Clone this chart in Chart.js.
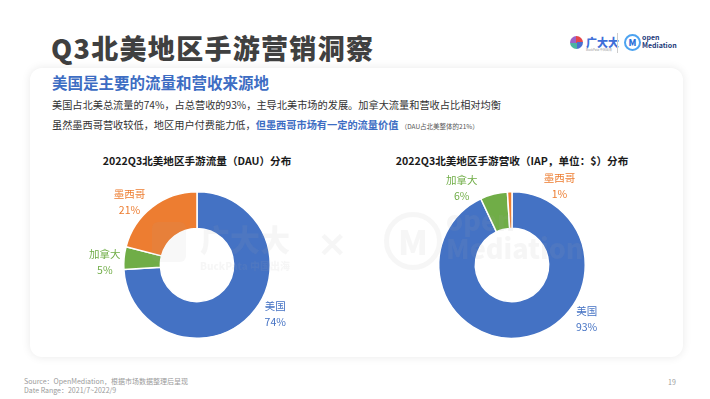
<!DOCTYPE html>
<html lang="zh">
<head>
<meta charset="UTF-8">
<title>Q3北美地区手游营销洞察</title>
<script src="https://cdn.jsdelivr.net/npm/chart.js"></script>
<style>
  body { margin: 0; width: 710px; height: 399px; background: #fff; font-family: 'Noto Sans CJK SC', 'Noto Sans', sans-serif; position: relative; overflow: hidden; }
  .abs { position: absolute; white-space: nowrap; }
  .title { left: 51px; top: 28px; font-size: 27px; font-weight: 900; color: #404040; letter-spacing: 1.3px; }
  .card { left: 30px; top: 68px; width: 653px; height: 289px; border-radius: 12px; background: #fff; box-shadow: 0 0 10px rgba(0,0,0,0.09); }
  .sub { left: 52px; top: 71px; font-size: 15.5px; font-weight: 700; color: #3d6dc3; }
  .para { left: 52px; font-size: 10.2px; color: #333; }
  .hl { color: #3d6dc3; font-weight: 700; }
  .tiny { font-size: 6.5px; color: #555; }
  .ctitle { font-size: 10.6px; font-weight: 700; color: #1a1a1a; transform: translateX(-50%); }
  .wm { color: rgba(170,170,170,0.10); font-weight: 900; }
  .foot { left: 24px; font-size: 7px; color: #9a9a9a; line-height: 9px; }
  canvas { position: absolute; }
</style>
</head>
<body>
<div class="abs title">Q3北美地区手游营销洞察</div>

<!-- logos top right -->
<div class="abs" style="left:570px;top:36px;width:13px;height:13px;border-radius:50%;background:conic-gradient(#e5474b 0 25%, #4a6fd0 25% 50%, #4bb5a0 50% 75%, #9a62c9 75% 100%);"></div>
<div class="abs" style="left:586px;top:34px;font-size:11px;font-weight:900;color:#3f6fd8;">广大大</div>
<div class="abs" style="left:586px;top:48px;font-size:3px;color:#999;">BuckPata 中国出海</div>
<div class="abs" style="left:617px;top:33px;width:1px;height:20px;background:#ccc;"></div>
<div class="abs" style="left:624px;top:34px;width:13px;height:13px;border:2px solid #4da3f0;border-radius:50%;font-size:9px;font-weight:900;color:#2a6fd8;text-align:center;line-height:13px;">M</div>
<div class="abs" style="left:642px;top:33px;font-size:7px;font-weight:700;color:#1d3a7a;line-height:8px;">open<br>Mediation</div>

<div class="abs card"></div>
<div class="abs sub">美国是主要的流量和营收来源地</div>
<div class="abs para" style="top:97px;">美国占北美总流量的74%，占总营收的93%，主导北美市场的发展。加拿大流量和营收占比相对均衡</div>
<div class="abs para" style="top:117px;">虽然墨西哥营收较低，地区用户付费能力低，<span class="hl">但墨西哥市场有一定的流量价值</span> <span class="tiny">（DAU占北美整体的21%）</span></div>

<div class="abs ctitle" style="left:197px;top:153px;">2022Q3北美地区手游流量（DAU）分布</div>
<div class="abs ctitle" style="left:512px;top:153px;">2022Q3北美地区手游营收（IAP，单位：$）分布</div>

<canvas id="dauChart" width="280" height="200" style="left:57px;top:165px;"></canvas>
<canvas id="iapChart" width="280" height="200" style="left:372px;top:165px;"></canvas>

<!-- watermarks -->
<div class="abs wm" style="left:152px;top:222px;width:34px;height:40px;border-radius:6px;background:rgba(170,170,170,0.08);"></div>
<div class="abs wm" style="left:200px;top:216px;font-size:30px;">广大大</div>
<div class="abs wm" style="left:200px;top:258px;font-size:10px;">BuckPata 中国出海</div>
<div class="abs wm" style="left:318px;top:218px;font-size:34px;">✕</div>
<div class="abs wm" style="left:384px;top:212px;width:48px;height:48px;border:5px solid rgba(170,170,170,0.10);border-radius:50%;font-size:34px;text-align:center;line-height:48px;">M</div>
<div class="abs wm" style="left:446px;top:206px;font-size:27px;line-height:28px;">open<br>Mediation</div>

<div class="abs foot" style="top:377px;">Source：OpenMediation，根据市场数据整理后呈现<br>Date Range：2021/7~2022/9</div>
<div class="abs" style="left:668px;top:377px;font-size:7px;color:#9a9a9a;">19</div>

<script>
const regions = ['美国', '加拿大', '墨西哥'];
const dauShare = [74, 5, 21];
const iapShare = [93, 6, 1];
const sliceColors = ['#4472c4', '#70ad47', '#ed7d31'];

// label placement, degrees clockwise from 12 o'clock
const dauLabelAngles = [122, 272, 313];
const iapLabelAngles = [126, 327, 31];

const outsideLabels = {
  id: 'outsideLabels',
  afterDatasetsDraw(chart, args, opts) {
    const ctx = chart.ctx;
    const meta = chart.getDatasetMeta(0);
    ctx.save();
    ctx.font = '10.5px "Noto Sans CJK SC", sans-serif';
    ctx.textAlign = 'center';
    ctx.textBaseline = 'middle';
    meta.data.forEach((arc, i) => {
      const a = opts.angles[i] * Math.PI / 180;
      const r = arc.outerRadius + opts.gap;
      const x = arc.x + Math.sin(a) * r;
      const y = arc.y - Math.cos(a) * r;
      ctx.fillStyle = sliceColors[i];
      ctx.fillText(chart.data.labels[i], x, y - 8);
      ctx.fillText(chart.data.datasets[0].data[i] + '%', x, y + 8);
    });
    ctx.restore();
  }
};

function makeDonut(id, values, angles) {
  return new Chart(document.getElementById(id), {
    type: 'doughnut',
    data: { labels: regions, datasets: [{ data: values, backgroundColor: sliceColors, borderColor: '#fff', borderWidth: 1.5 }] },
    options: {
      responsive: false,
      animation: false,
      cutout: '50%',
      layout: { padding: { top: 26, bottom: 26 } },
      plugins: { legend: { display: false }, tooltip: { enabled: false }, outsideLabels: { angles: angles, gap: 19 } }
    },
    plugins: [outsideLabels]
  });
}

makeDonut('dauChart', dauShare, dauLabelAngles);
makeDonut('iapChart', iapShare, iapLabelAngles);
</script>
</body>
</html>
